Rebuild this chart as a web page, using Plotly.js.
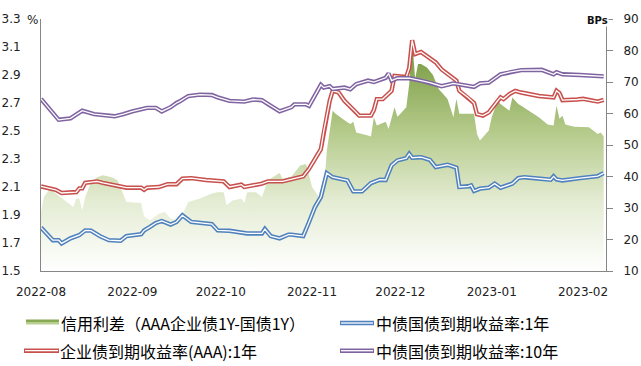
<!DOCTYPE html>
<html>
<head>
<meta charset="utf-8">
<script src="https://cdn.plot.ly/plotly-3.0.1.min.js"></script>
<style>html,body{margin:0;padding:0;background:#fff;}#chart{width:641px;height:366px;}</style>
</head>
<body>
<div id="chart"></div>
<script>
// ---------------- data ----------------
const legendNames = ['信用利差（AAA企业债1Y-国债1Y）', '中债国债到期收益率:1年', '企业债到期收益率(AAA):1年', '中债国债到期收益率:10年'];
const xTickFormat = '%Y-%m';

const spreadDates = ['2022-08-01','2022-08-02','2022-08-04','2022-08-06','2022-08-12','2022-08-13','2022-08-14','2022-08-15','2022-08-16','2022-08-18','2022-08-20','2022-08-22','2022-08-25','2022-08-27','2022-08-30','2022-09-04','2022-09-05','2022-09-07','2022-09-10','2022-09-12','2022-09-14','2022-09-17','2022-09-20','2022-09-24','2022-09-28','2022-09-30','2022-10-02','2022-10-03','2022-10-05','2022-10-08','2022-10-09','2022-10-10','2022-10-13','2022-10-15','2022-10-17','2022-10-21','2022-10-22','2022-10-25','2022-10-28','2022-10-30','2022-11-01','2022-11-03','2022-11-04','2022-11-05','2022-11-06','2022-11-08','2022-11-09','2022-11-13','2022-11-14','2022-11-15','2022-11-16','2022-11-20','2022-11-21','2022-11-22','2022-11-23','2022-11-26','2022-11-27','2022-11-29','2022-11-30','2022-12-01','2022-12-03','2022-12-04','2022-12-05','2022-12-06','2022-12-07','2022-12-08','2022-12-10','2022-12-12','2022-12-14','2022-12-17','2022-12-19','2022-12-20','2022-12-21','2022-12-26','2022-12-27','2022-12-28','2022-12-31','2023-01-01','2023-01-03','2023-01-04','2023-01-07','2023-01-08','2023-01-10','2023-01-11','2023-01-17','2023-01-20','2023-01-22','2023-01-23','2023-01-24','2023-01-25','2023-01-26','2023-01-29','2023-02-03','2023-02-06','2023-02-07','2023-02-08'];
const spreadBps = [28.7,33.5,36.1,34.6,30.3,33,33,29.3,33.5,38.2,39.8,40.4,39.8,38.8,31.9,31.6,27.2,26.1,28.2,28.7,26.6,26.1,31.9,33,34.6,35,35,30.9,32.4,32.9,31.6,35,35,33.5,38.8,41.1,39.3,40,43.5,44,36.7,34,32.4,34.6,48,60.9,59.9,57.2,56.7,57.4,54,53,52.7,58.8,56.2,57.4,55.1,62,59,59.9,62,69.4,83,71,75.7,75.7,74.6,72.3,67.8,64.6,58.8,64.6,59.9,59.9,53.5,51.4,54.6,58.8,64.1,63,60.9,65.1,63,62.5,58.8,56.5,56.2,62.5,58.3,59.3,56.5,55.8,55.6,53.5,54,52.7];

const govt1yDates = ['2022-08-01','2022-08-03','2022-08-05','2022-08-07','2022-08-08','2022-08-11','2022-08-14','2022-08-16','2022-08-18','2022-08-21','2022-08-24','2022-08-28','2022-08-30','2022-09-04','2022-09-05','2022-09-07','2022-09-09','2022-09-11','2022-09-14','2022-09-16','2022-09-18','2022-09-21','2022-09-28','2022-09-30','2022-10-04','2022-10-10','2022-10-15','2022-10-16','2022-10-18','2022-10-21','2022-10-24','2022-10-25','2022-10-29','2022-10-31','2022-11-02','2022-11-04','2022-11-06','2022-11-08','2022-11-13','2022-11-15','2022-11-18','2022-11-21','2022-11-24','2022-11-26','2022-11-28','2022-11-30','2022-12-03','2022-12-04','2022-12-05','2022-12-08','2022-12-11','2022-12-13','2022-12-17','2022-12-20','2022-12-21','2022-12-24','2022-12-25','2022-12-26','2022-12-28','2022-12-31','2023-01-02','2023-01-04','2023-01-07','2023-01-08','2023-01-10','2023-01-12','2023-01-21','2023-01-22','2023-01-23','2023-01-25','2023-01-31','2023-02-06','2023-02-08'];
const govt1y = [1.81,1.768,1.72,1.72,1.697,1.733,1.756,1.79,1.788,1.749,1.72,1.716,1.749,1.763,1.79,1.815,1.843,1.857,1.832,1.85,1.898,1.85,1.835,1.79,1.787,1.768,1.768,1.80,1.749,1.733,1.76,1.76,1.749,1.85,1.957,2.028,2.199,2.17,2.147,2.069,2.069,2.128,2.152,2.15,2.254,2.29,2.306,2.337,2.309,2.313,2.294,2.242,2.259,2.238,2.10,2.105,2.112,2.071,2.088,2.095,2.124,2.095,2.117,2.124,2.163,2.17,2.152,2.176,2.154,2.147,2.163,2.178,2.199];

const corpDates = ['2022-08-01','2022-08-04','2022-08-06','2022-08-08','2022-08-13','2022-08-14','2022-08-15','2022-08-16','2022-08-20','2022-08-22','2022-08-25','2022-08-30','2022-09-04','2022-09-05','2022-09-06','2022-09-10','2022-09-13','2022-09-16','2022-09-18','2022-09-21','2022-09-26','2022-09-30','2022-10-02','2022-10-04','2022-10-08','2022-10-09','2022-10-15','2022-10-17','2022-10-22','2022-10-29','2022-10-31','2022-11-04','2022-11-05','2022-11-07','2022-11-08','2022-11-10','2022-11-12','2022-11-16','2022-11-17','2022-11-21','2022-11-22','2022-11-23','2022-11-25','2022-11-28','2022-11-29','2022-12-03','2022-12-04','2022-12-05','2022-12-06','2022-12-08','2022-12-11','2022-12-13','2022-12-15','2022-12-18','2022-12-20','2022-12-21','2022-12-24','2022-12-26','2022-12-27','2022-12-29','2022-12-31','2023-01-03','2023-01-04','2023-01-05','2023-01-07','2023-01-09','2023-01-11','2023-01-17','2023-01-22','2023-01-23','2023-01-24','2023-01-25','2023-01-28','2023-01-30','2023-02-01','2023-02-04','2023-02-06','2023-02-08'];
const corpAAA1y = [2.104,2.09,2.08,2.057,2.064,2.09,2.09,2.13,2.14,2.13,2.117,2.095,2.095,2.08,2.095,2.10,2.12,2.12,2.16,2.163,2.15,2.14,2.14,2.10,2.117,2.10,2.124,2.14,2.14,2.176,2.23,2.37,2.50,2.716,2.787,2.776,2.716,2.633,2.61,2.61,2.65,2.728,2.728,2.787,2.894,2.887,2.95,3.148,3.05,3.065,3.02,2.99,2.94,2.894,2.86,2.787,2.74,2.70,2.62,2.61,2.633,2.716,2.74,2.728,2.764,2.787,2.775,2.75,2.74,2.787,2.77,2.72,2.72,2.725,2.73,2.72,2.71,2.723];

const govt10yDates = ['2022-08-01','2022-08-07','2022-08-11','2022-08-13','2022-08-15','2022-08-19','2022-08-22','2022-08-26','2022-08-29','2022-09-01','2022-09-06','2022-09-09','2022-09-11','2022-09-14','2022-09-16','2022-09-17','2022-09-20','2022-09-24','2022-09-28','2022-09-30','2022-10-04','2022-10-09','2022-10-12','2022-10-15','2022-10-18','2022-10-21','2022-10-25','2022-10-26','2022-10-30','2022-10-31','2022-11-04','2022-11-05','2022-11-07','2022-11-08','2022-11-12','2022-11-14','2022-11-16','2022-11-20','2022-11-22','2022-11-26','2022-11-27','2022-11-28','2022-11-30','2022-12-04','2022-12-08','2022-12-11','2022-12-15','2022-12-19','2022-12-26','2022-12-28','2022-12-31','2023-01-04','2023-01-07','2023-01-11','2023-01-18','2023-01-22','2023-01-23','2023-01-25','2023-01-31','2023-02-08'];
const govt10y = [2.73,2.58,2.59,2.62,2.645,2.62,2.615,2.605,2.62,2.64,2.665,2.665,2.64,2.67,2.70,2.71,2.75,2.76,2.757,2.74,2.715,2.71,2.725,2.72,2.68,2.64,2.67,2.69,2.69,2.68,2.83,2.81,2.82,2.80,2.81,2.798,2.835,2.86,2.85,2.88,2.91,2.86,2.877,2.877,2.86,2.846,2.82,2.84,2.815,2.84,2.845,2.905,2.92,2.935,2.937,2.905,2.92,2.905,2.90,2.89];

// ---------------- styles ----------------
const C_BLUE = '#4f81bd', C_RED = '#c8504d', C_PURPLE = '#8064a2';
const AXIS_C = '#868686';
const TICK_FONT = {family: 'DejaVu Sans', size: 12, color: '#222'};
const CJK = '"Noto Sans CJK SC", "Noto Sans", sans-serif';
const OUTER_W = 4.4, INNER_W = 1.3;

function doubleLine(x, y, color, name) {
  return [
    {type: 'scatter', mode: 'lines', x: x, y: y, yaxis: 'y2', name: name,
     line: {color: color, width: OUTER_W}, showlegend: false},
    {type: 'scatter', mode: 'lines', x: x, y: y, yaxis: 'y2', name: name,
     line: {color: '#ffffff', width: INNER_W}, showlegend: false, hoverinfo: 'skip'}
  ];
}

const traces = [
  {type: 'scatter', mode: 'none', x: spreadDates, y: spreadBps, yaxis: 'y', name: legendNames[0],
   fill: 'tozeroy', showlegend: false,
   fillgradient: {type: 'vertical', start: 10, stop: 84,
     colorscale: [[0, '#ffffff'], [0.3, '#e4ecd3'], [0.6, '#b4ca8a'], [1, '#6f9436']]}},
  ...doubleLine(govt1yDates, govt1y, C_BLUE, legendNames[1]),
  ...doubleLine(corpDates, corpAAA1y, C_RED, legendNames[2]),
  ...doubleLine(govt10yDates, govt10y, C_PURPLE, legendNames[3])
];

// plot area geometry helpers for legend (paper coords)
const PL = 41, PR = 606, PT = 19, PB = 271;
const px = v => (v - PL) / (PR - PL);
const py = v => (PB - v) / (PB - PT);

const shapes = [];
const annotations = [];
function lineSwatch(x0, x1, yc, color) {
  shapes.push({type: 'line', xref: 'paper', yref: 'paper', x0: px(x0), x1: px(x1), y0: py(yc), y1: py(yc),
    line: {color: color, width: OUTER_W}});
  shapes.push({type: 'line', xref: 'paper', yref: 'paper', x0: px(x0 + 1), x1: px(x1 - 1), y0: py(yc), y1: py(yc),
    line: {color: '#ffffff', width: INNER_W}});
}
// green swatch (two-tone to mimic gradient)
shapes.push({type: 'rect', xref: 'paper', yref: 'paper', x0: px(26), x1: px(59), y0: py(322), y1: py(319.5),
  line: {width: 0}, fillcolor: '#87a854'});
shapes.push({type: 'rect', xref: 'paper', yref: 'paper', x0: px(26), x1: px(59), y0: py(324.5), y1: py(322),
  line: {width: 0}, fillcolor: '#b9cf92'});
lineSwatch(24, 59, 350.7, C_RED);
lineSwatch(340, 374, 323, C_BLUE);
lineSwatch(340, 374, 350.7, C_PURPLE);

function legText(x, y, t) {
  annotations.push({xref: 'paper', yref: 'paper', x: px(x), y: py(y), xanchor: 'left', yanchor: 'middle',
    text: t, showarrow: false, font: {family: CJK, size: 16, color: '#000'}});
}
legText(59, 322.5, legendNames[0]);
legText(374, 322.5, legendNames[1]);
legText(58, 351, legendNames[2]);
legText(374, 351, legendNames[3]);

annotations.push({xref: 'paper', yref: 'paper', x: px(32), y: py(20), xanchor: 'center', yanchor: 'middle',
  text: '%', showarrow: false, font: TICK_FONT});
annotations.push({xref: 'paper', yref: 'paper', x: px(597), y: py(21), xanchor: 'center', yanchor: 'middle',
  text: '<b>BPs</b>', showarrow: false, bgcolor: '#ffffff', borderpad: 0,
  font: {family: 'DejaVu Sans', size: 10, color: '#111'}});

const layout = {
  width: 641, height: 366,
  margin: {l: 41, r: 35, t: 19, b: 95, pad: 0},
  paper_bgcolor: '#ffffff', plot_bgcolor: '#ffffff',
  showlegend: false,
  xaxis: {type: 'date', range: ['2022-08-01', '2023-02-08 19:00'],
    tickformat: xTickFormat, dtick: 'M1', tick0: '2022-08-01',
    showline: true, linecolor: AXIS_C, linewidth: 1, ticks: '', showgrid: false, zeroline: false,
    tickfont: TICK_FONT, ticklabelstandoff: 10},
  yaxis: {side: 'right', range: [9.999, 90.001], dtick: 10, tick0: 10,
    showline: true, linecolor: AXIS_C, linewidth: 1, ticks: 'outside', ticklen: 6, tickcolor: AXIS_C,
    showgrid: false, zeroline: false, tickfont: TICK_FONT, ticklabelstandoff: 8},
  yaxis2: {side: 'left', overlaying: 'y', range: [1.4999, 3.3001], dtick: 0.2, tick0: 1.5, tickformat: '.1f',
    showline: true, linecolor: AXIS_C, linewidth: 1, ticks: '', showgrid: false, zeroline: false,
    tickfont: TICK_FONT, ticklabelstandoff: 17},
  shapes: shapes,
  annotations: annotations
};

Plotly.newPlot('chart', traces, layout, {displayModeBar: false, staticPlot: true});
</script>
</body>
</html>
